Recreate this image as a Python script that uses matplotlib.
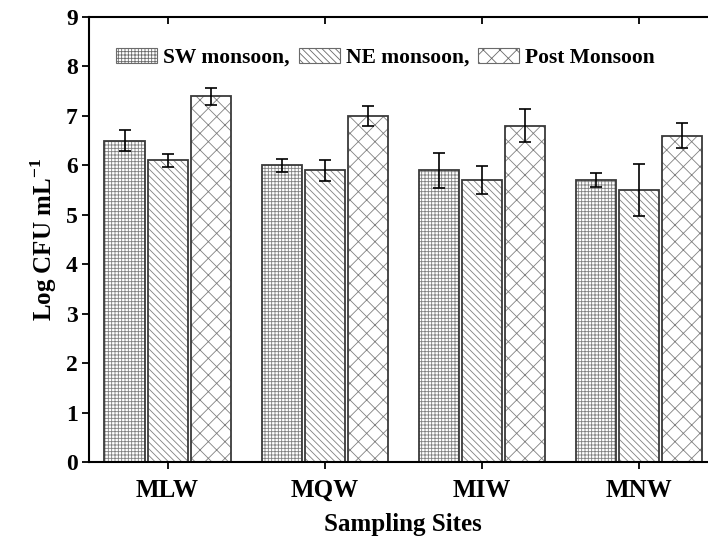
import numpy as np
import matplotlib
matplotlib.use('Agg')
import matplotlib.pyplot as plt

plt.rcParams['font.family'] = ['Liberation Serif', 'DejaVu Serif']
plt.rcParams['font.weight'] = 'bold'
plt.rcParams['mathtext.fontset'] = 'custom'
plt.rcParams['mathtext.rm'] = 'Liberation Serif:bold'
plt.rcParams['mathtext.bf'] = 'Liberation Serif:bold'
plt.rcParams['hatch.linewidth'] = 0.6

# data
sites = ['MLW', 'MQW', 'MIW', 'MNW']
sw = [6.5, 6.0, 5.9, 5.7]
sw_err = [0.22, 0.13, 0.35, 0.14]
ne = [6.1, 5.9, 5.7, 5.5]
ne_err = [0.13, 0.21, 0.28, 0.52]
post = [7.4, 7.0, 6.8, 6.6]
post_err = [0.17, 0.21, 0.33, 0.25]
labels = ['SW monsoon,', 'NE monsoon,', 'Post Monsoon']

fig = plt.figure(figsize=(7.08, 5.39), dpi=100)
ax = fig.add_axes([89/708, 77/539, 628.5/708, 445/539])

x = np.arange(len(sites))
w = 0.255
step = 0.274
series = [(sw, sw_err, '+++++'), (ne, ne_err, '\\' * 5), (post, post_err, 'xx')]
handles = []
for i, (vals, errs, hat) in enumerate(series):
    pos = x + (i - 1) * step
    # hatch in gray, outline dark on top
    ax.bar(pos, vals, w, color='white', edgecolor='#808080', hatch=hat, linewidth=0)
    ax.bar(pos, vals, w, fill=False, edgecolor='#3a3a3a', linewidth=1.3)
    ax.errorbar(pos, vals, yerr=errs, fmt='none', ecolor='black', elinewidth=1.2,
                capsize=4, capthick=1.2)
    h = plt.Rectangle((0, 0), 1, 1, facecolor='white', edgecolor='#6a6a6a', hatch=hat, linewidth=0.8)
    handles.append(h)

ax.set_xlim(-0.5, 3.5)
ax.set_ylim(0, 9)
ax.set_yticks(range(0, 10))
ax.set_xticks(x)
ax.set_xticklabels(sites)
ax.spines['right'].set_visible(False)
for s in ['left', 'bottom', 'top']:
    ax.spines[s].set_linewidth(1.5)
ax.tick_params(axis='y', direction='out', length=5, width=1.3, labelsize=17, pad=3)
ax.tick_params(axis='x', direction='out', length=5, width=1.3, labelsize=18, pad=7,
               top=True)
# top ticks inward
for t in ax.xaxis.get_major_ticks():
    t.tick2line.set_marker(matplotlib.lines.TICKDOWN)
ax.set_xlabel('Sampling Sites', fontsize=18, fontweight='bold', labelpad=8)
ax.set_ylabel('Log CFU mL$^{-1}$', fontsize=18, fontweight='bold', labelpad=5)

ax.legend(handles, labels, loc='center left', bbox_to_anchor=(0.043, 0.908), ncol=3,
          frameon=False, fontsize=15.5, handlelength=1.9, handleheight=0.7,
          handletextpad=0.3, columnspacing=0.4, borderpad=0, borderaxespad=0)

plt.savefig('out.png', dpi=100)
